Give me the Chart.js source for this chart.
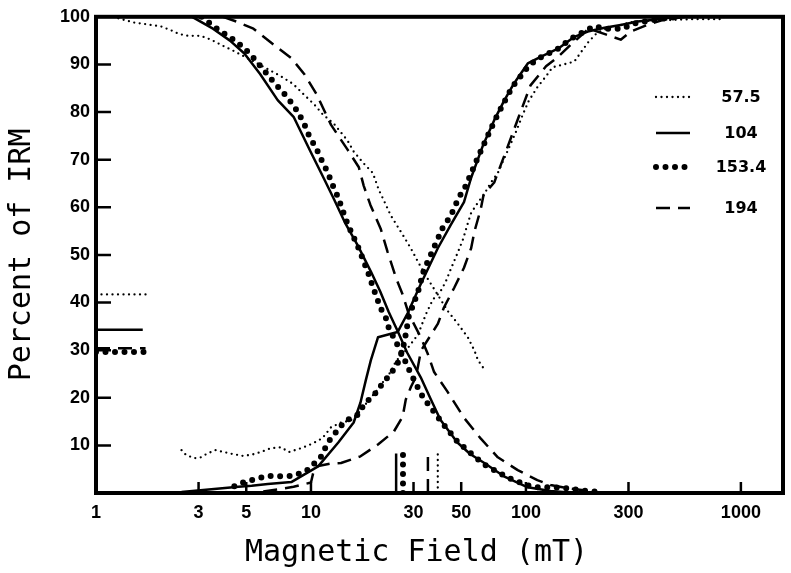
<!DOCTYPE html>
<html>
<head>
<meta charset="utf-8">
<title>IRM demagnetization</title>
<script src="https://cdn.jsdelivr.net/npm/chart.js@4.4.1/dist/chart.umd.min.js"></script>
<style>
  html, body { margin: 0; padding: 0; background: #fff; }
  #wrap { width: 791px; height: 573px; }
</style>
</head>
<body>
<div id="wrap"><canvas id="irm-canvas"></canvas></div>
<script>
// samples (legend labels)
var samples = ["57.5", "104", "153.4", "194"];

// AF demagnetization curves [field mT, percent]
var demag575 = [[1.2, 100], [1.34, 99.4], [1.5, 98.8], [2, 98], [2.28, 97], [2.43, 96.4], [2.68, 96], [3.07, 96], [3.43, 95.2], [3.94, 93.8], [4.38, 92.8], [5.37, 90.7], [6.3, 89], [7.25, 87.5], [8.25, 85.9], [9.2, 83.8], [10.3, 81.7], [11.3, 79.6], [12.8, 77.5], [14.8, 74], [15.8, 71.7], [17.6, 69.2], [19.4, 67.2], [20.7, 63.6], [21.8, 61.5], [23.5, 58.3], [26.9, 54], [29.2, 51.3], [31.5, 48.5], [34.9, 45], [38.9, 41.6], [43.3, 38.2], [48.3, 35.5], [53.8, 32.6], [57.6, 29.9], [59.8, 27.9], [63.5, 26.2]];
var demag104 = [[2.8, 100], [3.5, 97.5], [4.2, 95], [4.9, 92.3], [5.8, 88], [7, 82.5], [8.3, 79], [10, 71.5], [11.5, 66], [12.8, 61.7], [14.5, 56.5], [16.5, 52], [19, 46.5], [21, 42.3], [23, 38], [25.3, 34], [28, 29.5], [32.4, 24.3], [36, 19.8], [40, 15.4], [48, 10.6], [55, 8.2], [63.5, 6.4], [79, 3.5], [102, 1.2], [130, 0.4], [170, 0]];
var demag1534 = [[3.1, 100], [3.6, 97.7], [4, 96.3], [4.5, 94.8], [5, 93], [5.5, 91], [6.7, 86.3], [7.4, 84.2], [8.1, 82], [8.7, 80], [9.3, 77.5], [9.8, 75], [10.6, 72.3], [11.1, 70.3], [12, 67.2], [12.6, 64.7], [13.4, 62], [14, 59.5], [14.8, 56.5], [16.7, 51.3], [18.6, 45.8], [19.4, 43.3], [21.1, 38.8], [22.3, 36.8], [23, 34.7], [26, 30], [29.2, 25], [32.5, 20.8], [34.9, 18.8], [41, 14.6], [48, 10.8], [56.8, 7.9], [65, 5.8], [74, 4.4], [83.7, 3.1], [100, 1.7], [113, 1.2], [135, 1.2], [153, 1], [185, 0.5], [220, 0.2]];
var demag194 = [[3.9, 100], [4.5, 99], [5.4, 97.5], [6.6, 94.4], [8.1, 91.3], [9.3, 88], [10.6, 83.8], [12.4, 77.3], [14.8, 72.1], [16.7, 68.4], [17.6, 64.5], [18.9, 60.5], [21.1, 55.5], [22.7, 50.7], [24.9, 45.1], [26.7, 41.7], [28.5, 37.6], [32.5, 32.6], [34.9, 29.3], [37.4, 25.4], [43, 21.4], [51.5, 15.8], [61.7, 11.4], [74, 7.5], [91.6, 4.8], [113, 2.7], [130, 1.7], [156, 1], [200, 0.4]];

// IRM acquisition curves [field mT, percent]
var acq575 = [[2.5, 9], [2.62, 8], [2.86, 7.3], [3.07, 7.5], [3.3, 8.3], [3.6, 9], [4.2, 8.3], [4.8, 7.8], [5.27, 8], [5.85, 8.6], [6.5, 9.4], [7.25, 9.6], [7.9, 8.6], [9, 9.4], [10.2, 10.4], [11.3, 11.5], [12.4, 13.8], [13.8, 14.8], [15.3, 15.2], [17, 17.3], [18, 18.7], [19, 20], [20.5, 21.8], [21.8, 23.5], [22.7, 24.3], [24.9, 27.7], [28.2, 30.4], [31.5, 33.3], [34.3, 37.6], [36.9, 40.6], [40, 42.3], [42.3, 44.3], [44.7, 47], [48.3, 50.6], [51, 53.3], [53.8, 56.8], [55.6, 58.8], [59.8, 61], [63.5, 62.5], [68.5, 65.1], [74, 67.2], [82.5, 72], [90, 75.9], [97, 79.6], [103, 82.3], [113, 85.2], [124, 87.5], [133, 89.4], [150, 90], [168, 90.6], [180, 92.5], [196, 94.8], [215, 96.7], [243, 97.7], [276, 98.3], [317, 99], [450, 99.3], [600, 99.5], [800, 99.5]];
var acq104 = [[2.5, 0.2], [4.6, 1.3], [5.3, 1.5], [6.3, 1.9], [8.1, 2.3], [10.8, 5.6], [13.4, 10.6], [15.8, 14.8], [17, 19], [18, 23.7], [19, 27.9], [20.5, 32.7], [25.3, 33.8], [28.2, 37.8], [32.5, 44], [38.9, 51.4], [44.7, 56.3], [51.5, 61.1], [55.6, 66.2], [63, 72.9], [71.2, 78.3], [79, 82.3], [88, 86], [102, 90.2], [117, 91.6], [141, 93.3], [168, 95.8], [194, 96.9], [232, 97.7], [276, 98.3], [331, 99], [393, 99.4], [508, 100]];
var acq1534 = [[4.4, 1.4], [4.9, 2.3], [5.5, 2.9], [6.3, 3.6], [7.25, 3.5], [8.25, 3.6], [9.5, 4.6], [11.1, 7.5], [11.7, 9.6], [12.4, 11.6], [13.4, 13.3], [14.3, 15], [16.5, 16.4], [17.6, 18.5], [20, 21], [21.6, 23.1], [23.5, 25], [25.3, 27.2], [26.7, 30], [27.6, 33.3], [28.5, 37], [31.5, 42.3], [33.5, 46.8], [36.9, 51], [41, 55.7], [44.7, 58.2], [48.7, 62], [52.5, 64.5], [59.7, 70.4], [71.2, 78], [76.4, 80.7], [81, 82.9], [86.8, 85.4], [92.6, 87], [103, 89.7], [114, 91.2], [126, 92.2], [141, 93.3], [156, 94.8], [170, 96], [189, 97], [207, 98], [240, 97.5], [282, 97.5], [313, 98.5], [347, 98.9], [415, 99.5], [508, 100]];
var acq194 = [[6, 0.3], [8.3, 1.3], [10, 2.2], [10.4, 5.5], [12.4, 6.2], [13.8, 6.3], [17, 7.7], [20.5, 10.2], [24.3, 12.9], [26.7, 16], [27.6, 19.6], [29.2, 22.3], [30.8, 24.4], [32.5, 29.9], [38.9, 35.5], [41.5, 38.9], [46.4, 43.1], [51.5, 47.3], [55.6, 51.4], [57.6, 54.9], [61.7, 59.7], [63.5, 62.6], [71.2, 65.2], [82.5, 72.9], [92.6, 79], [105, 85.6], [124, 89.6], [138, 91.2], [165, 94.5], [196, 97.5], [235, 96.3], [276, 95.2], [307, 96.9], [367, 98.3], [440, 99.4], [550, 100]];

// crossover percent (short marks at left edge, field 1 .. crossEnd)
var crossPct = [41.7, 34.3, 29.6, 30.4];
var crossEnd = [1.73, 1.65, 1.7, 1.7];
// median destructive field (short marks on the bottom axis)
var medianField = [38.9, 24.9, 26.8, 35];
var medianTop = [8.5, 8.3, 8.7, 8.5];

var xTicks = [1, 3, 5, 10, 30, 50, 100, 300, 1000];
var yTicks = [10, 20, 30, 40, 50, 60, 70, 80, 90, 100];

var demagCurves = [demag575, demag104, demag1534, demag194];
var acqCurves = [acq575, acq104, acq1534, acq194];

var lineStyles = [
  { borderWidth: 2.3, borderDash: [0, 5.5], borderCapStyle: "round" },
  { borderWidth: 2.5, borderDash: [], borderCapStyle: "butt" },
  { borderWidth: 6, borderDash: [0, 9.5], borderCapStyle: "round" },
  { borderWidth: 2.5, borderDash: [14, 8], borderCapStyle: "butt" },
];

function toPoints(arr) {
  return arr.map(function (p) { return { x: p[0], y: p[1] }; });
}

function makeSet(label, data, i) {
  return {
    label: label,
    data: data,
    borderColor: "#000",
    backgroundColor: "transparent",
    borderWidth: lineStyles[i].borderWidth,
    borderDash: lineStyles[i].borderDash,
    borderCapStyle: lineStyles[i].borderCapStyle,
    borderJoinStyle: "round",
    pointRadius: 0,
    fill: false,
    tension: 0,
  };
}

var datasets = [];
samples.forEach(function (s, i) {
  datasets.push(makeSet(s + " AF", toPoints(demagCurves[i]), i));
  datasets.push(makeSet(s + " IRM", toPoints(acqCurves[i]), i));
  datasets.push(makeSet(s + " cross", [{ x: 1, y: crossPct[i] }, { x: crossEnd[i], y: crossPct[i] }], i));
  datasets.push(makeSet(s + " MDF", [{ x: medianField[i], y: 0 }, { x: medianField[i], y: medianTop[i] }], i));
});

// frame round the plot, inward ticks, x title, legend
var framePlugin = {
  id: "framePlugin",
  afterDatasetsDraw: function (chart) {
    var ctx = chart.ctx;
    var a = chart.chartArea;
    var x = chart.scales.x;
    var y = chart.scales.y;
    ctx.save();
    ctx.strokeStyle = "#000";
    ctx.lineWidth = 2.5;
    ctx.setLineDash([]);
    ctx.beginPath();
    yTicks.forEach(function (v) {
      var py = y.getPixelForValue(v);
      ctx.moveTo(a.left, py);
      ctx.lineTo(a.left + 15, py);
    });
    xTicks.slice(1).forEach(function (v) {
      var px = x.getPixelForValue(v);
      ctx.moveTo(px, a.bottom);
      ctx.lineTo(px, a.bottom - 11);
    });
    ctx.stroke();
    ctx.lineWidth = 4;
    ctx.strokeRect(a.left, a.top, a.right - a.left, a.bottom - a.top);

    // x axis title
    ctx.fillStyle = "#000";
    ctx.font = '30px "DejaVu Sans Mono"';
    ctx.textAlign = "center";
    ctx.textBaseline = "middle";
    ctx.fillText("Magnetic Field (mT)", (a.left + a.right) / 2 - 23, 553);

    // legend
    var rows = [97, 133, 167, 208];
    ctx.font = 'bold 16px "DejaVu Sans"';
    samples.forEach(function (s, i) {
      var st = lineStyles[i];
      ctx.lineWidth = st.borderWidth;
      ctx.setLineDash(st.borderDash);
      ctx.lineCap = st.borderCapStyle;
      ctx.beginPath();
      ctx.moveTo(656, rows[i]);
      ctx.lineTo(690, rows[i]);
      ctx.stroke();
      ctx.fillText(s, 741, rows[i] + 1);
    });
    ctx.restore();
  },
};

new Chart(document.getElementById("irm-canvas"), {
  type: "line",
  data: { datasets: datasets },
  options: {
    responsive: true,
    maintainAspectRatio: false,
    animation: false,
    layout: { padding: { top: 13, right: 8, left: 0, bottom: 0 } },
    plugins: {
      legend: { display: false },
      tooltip: { enabled: false },
    },
    scales: {
      x: {
        type: "logarithmic",
        min: 1,
        max: 1570,
        grid: { display: false, drawTicks: false },
        border: { display: false },
        afterBuildTicks: function (scale) {
          scale.ticks = xTicks.map(function (v) { return { value: v }; });
        },
        afterFit: function (scale) { scale.height = 80; },
        ticks: {
          autoSkip: false,
          maxRotation: 0,
          padding: 9,
          color: "#000",
          font: { family: "Liberation Sans", size: 18, weight: "bold" },
          callback: function (v) { return String(v); },
        },
      },
      y: {
        min: 0,
        max: 100,
        grid: { display: false, drawTicks: false },
        border: { display: false },
        afterFit: function (scale) { scale.width = 96; },
        ticks: {
          stepSize: 10,
          padding: 6,
          color: "#000",
          font: { family: "Liberation Sans", size: 18, weight: "bold" },
          callback: function (v) { return v === 0 ? "" : v; },
        },
        title: {
          display: true,
          text: "Percent of IRM",
          color: "#000",
          font: { family: "DejaVu Sans Mono", size: 30 },
          padding: { top: 4, bottom: 0 },
        },
      },
    },
  },
  plugins: [framePlugin],
});
</script>
</body>
</html>
